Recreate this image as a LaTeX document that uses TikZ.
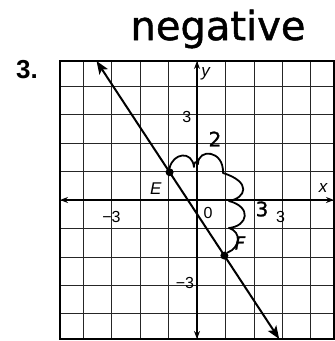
\documentclass[tikz,border=0pt]{standalone}
\usepackage{fontspec}
\setmainfont{Liberation Sans}
\newfontfamily\handfont[FakeBold=1.2]{DejaVu Sans}
\usetikzlibrary{arrows.meta}
\tikzset{
  gridline/.style={line width=0.8pt, black!85},
  frameline/.style={line width=1.3pt, black},
  axisline/.style={line width=1.8pt, black, {Stealth[length=8pt,width=6pt]}-{Stealth[length=8pt,width=6pt]}},
  graphline/.style={line width=2pt, black, {Stealth[length=13pt,width=10pt,inset=3pt]}-{Stealth[length=13pt,width=10pt,inset=3pt]}},
  dot/.style={circle, fill=black, inner sep=0pt, minimum size=8pt},
  ticklabel/.style={font=\fontsize{16}{16}\selectfont, inner sep=0pt},
  varlabel/.style={font=\itshape\fontsize{17}{17}\selectfont, inner sep=0pt},
  hand/.style={line width=1.8pt, black, line cap=round, line join=round},
  handtext/.style={font=\handfont\fontsize{20}{20}\selectfont, inner sep=0pt}
}
\begin{document}
\begin{tikzpicture}[x=1pt,y=-1pt]
\useasboundingbox (0,0) rectangle (335,341);
% title and number
\node[font=\handfont\fontsize{40}{40}\selectfont, inner sep=0pt] (title) at (218,29) {negative};
\node[font=\bfseries\fontsize{26}{26}\selectfont, inner sep=0pt] (num) at (27,70) {3.};
\begin{scope}[shift={(197,200)}, x=27.4pt, y=27.8pt]
  \draw[gridline] (-5,-5) grid (5,5);
  \draw[frameline] (-5,-5) rectangle (5,5);
  \coordinate (xl) at (-5,0);
  \coordinate (xr) at (5,0);
  \coordinate (yt) at (0,5);
  \coordinate (yb) at (0,-5);
  \draw[axisline] (xl) -- (xr);
  \draw[axisline] (yb) -- (yt);
  \coordinate (ltop) at (-3.667,5);
  \coordinate (lbot) at (3,-5);
  \draw[graphline] (ltop) -- (lbot);
  \node[dot] (E) at (-1,1) {};
  \node[dot] (F) at (1,-2) {};
  % printed labels
  \node[varlabel, anchor=west] (ylab) at (0.15,4.55) {y};
  \node[varlabel] (xlab) at (4.6,0.42) {x};
  \node[ticklabel] (y3) at (-0.37,3) {3};
  \node[ticklabel, anchor=east] (ym3) at (-0.1,-3) {−3};
  \node[ticklabel, anchor=east] (xm3) at (-2.78,-0.6) {−3};
  \node[ticklabel] (x3) at (3.05,-0.6) {3};
  \node[ticklabel] (o) at (0.4,-0.48) {0};
  \node[varlabel] (Elab) at (-1.5,0.4) {E};
\end{scope}
% handwritten annotations
\node[handtext] (two) at (215,139) {2};
\node[handtext] (three) at (262,209) {3};
\node[handtext, font=\handfont\itshape\fontsize{18}{18}\selectfont] (Fh) at (240,243) {F};
\coordinate (h1) at (194,167);
\coordinate (h2) at (223,173);
\coordinate (h3) at (229,201);
\coordinate (h4) at (229,228);
\draw[hand] (E.north) .. controls (173,153) and (192,150) .. (h1)
  .. controls (194,160) and (197,162) .. (198,164)
  .. controls (198,148) and (224,150) .. (h2)
  .. controls (252,182) and (246,198) .. (h3)
  .. controls (252,207) and (248,226) .. (h4)
  .. controls (242,232) and (240,248) .. (F.north east);
\end{tikzpicture}
\end{document}
